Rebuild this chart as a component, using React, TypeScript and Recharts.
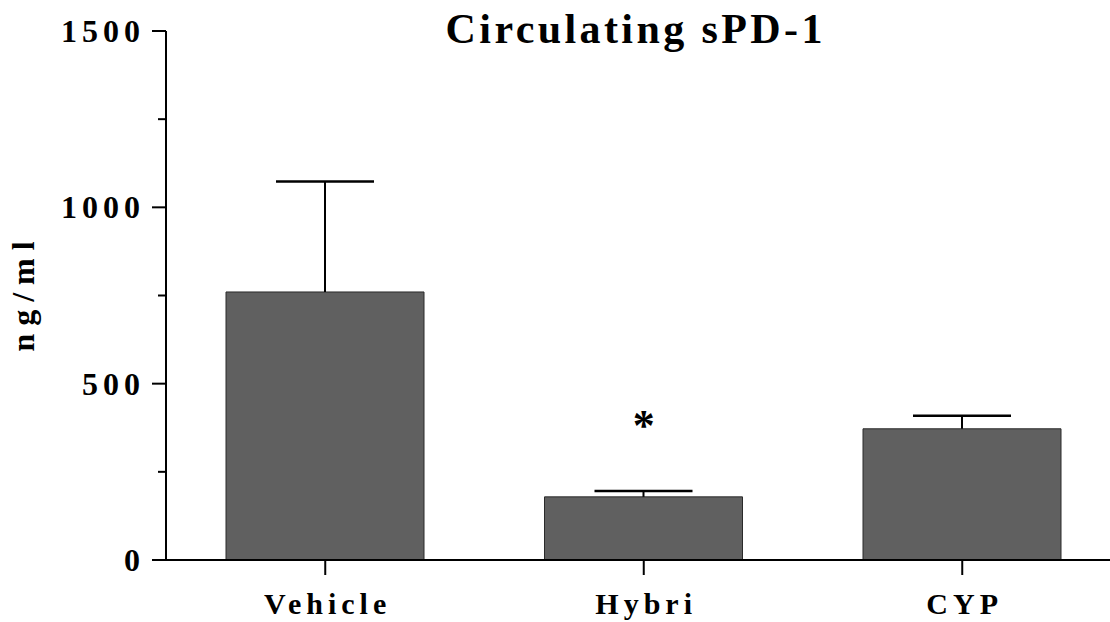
import { BarChart, Bar, XAxis, YAxis, ReferenceDot } from "recharts";

const groups = ["Vehicle", "Hybri", "CYP"];
const means = [760, 179, 372];
const sems = [313, 17, 37];
const yTicks = [0, 250, 500, 750, 1000, 1250, 1500];
const sigGroup = "Hybri";
const sigY = 394;

const data = groups.map((g, i) => ({ name: g, mean: means[i], sem: sems[i] }));

const font = "Liberation Serif, Times New Roman, serif";

// upper half of the SEM whisker, drawn on the stacked segment above each bar
const ErrorCap = (props: any) => {
	const { x, y, width, height } = props;
	const cx = x + width / 2;
	return (
		<g>
			<line x1={cx} x2={cx} y1={y + height} y2={y} stroke="#000" strokeWidth={2} />
			<line x1={cx - 49} x2={cx + 49} y1={y} y2={y} stroke="#000" strokeWidth={2.5} />
		</g>
	);
};

const YTick = (props: any) => {
	const { x, y, payload } = props;
	const major = payload.value % 500 === 0;
	return (
		<g>
			<line x1={x + (major ? 12 : 18)} x2={x + 26} y1={y} y2={y} stroke="#000" strokeWidth={2} />
			{major && (
				<text x={x + 5} y={y + 11} textAnchor="end" fontFamily={font} fontWeight="bold" fontSize={32} letterSpacing={5} fill="#000">
					{payload.value}
				</text>
			)}
		</g>
	);
};

const XTick = (props: any) => {
	const { x, y, payload } = props;
	return (
		<text x={x + 2.4} y={y + 39} textAnchor="middle" fontFamily={font} fontWeight="bold" fontSize={30} letterSpacing={5} fill="#000">
			{payload.value}
		</text>
	);
};

const YLabel = (props: any) => {
	const vb = props.viewBox || { x: 0, y: 31, width: 166, height: 529 };
	const cx = vb.x + 34;
	const cy = vb.y + vb.height / 2 - 3;
	return (
		<text x={cx} y={cy} transform={`rotate(-90, ${cx}, ${cy})`} textAnchor="middle" fontFamily={font} fontWeight="bold" fontSize={32} letterSpacing={8} fill="#000">
			ng/ml
		</text>
	);
};

export default function App() {
	return (
		<div style={{ position: "fixed", left: 0, top: 0, width: 1110, height: 622, overflow: "hidden", background: "#fff" }}>
			<div
				style={{
					position: "absolute",
					left: 334,
					top: 8,
					width: 600,
					textAlign: "center",
					fontFamily: font,
					fontWeight: "bold",
					fontSize: 42,
					lineHeight: "42px",
					letterSpacing: 3.4,
					paddingLeft: 3.4,
					boxSizing: "border-box",
					color: "#000",
				}}
			>
				Circulating sPD-1
			</div>
			<BarChart width={1130} height={622} data={data} margin={{ top: 31, right: 8.5, left: 0, bottom: 0 }}>
				<XAxis
					dataKey="name"
					height={62}
					tickSize={15}
					tickMargin={0}
					axisLine={{ stroke: "#000", strokeWidth: 2 }}
					tickLine={{ stroke: "#000", strokeWidth: 2 }}
					tick={<XTick />}
					interval={0}
				/>
				<YAxis
					width={166}
					domain={[0, 1500]}
					ticks={yTicks}
					interval={0}
					tickSize={14}
					tickMargin={12}
					tickLine={false}
					axisLine={{ stroke: "#000", strokeWidth: 2 }}
					tick={<YTick />}
					label={<YLabel />}
				/>
				<Bar dataKey="mean" stackId="a" barSize={198} fill="#606060" stroke="#2a2a2a" strokeWidth={1} isAnimationActive={false} />
				<Bar dataKey="sem" stackId="a" barSize={198} shape={<ErrorCap />} isAnimationActive={false} />
				<ReferenceDot
					x={sigGroup}
					y={sigY}
					r={0}
					stroke="none"
					fill="none"
					label={{ value: "*", position: "center", fontSize: 44, fontWeight: "bold", fontFamily: font, fill: "#000", dy: 3 }}
				/>
			</BarChart>
		</div>
	);
}
